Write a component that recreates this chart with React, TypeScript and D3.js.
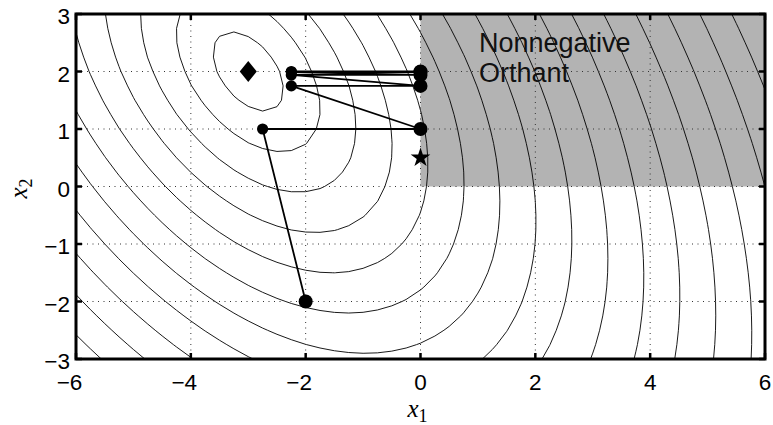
import React from 'react';
import * as d3 from 'd3';

const W = 773;
const H = 425;

// Axis ticks
const xTicks = [-6, -4, -2, 0, 2, 4, 6];
const yTicks = [-3, -2, -1, 0, 1, 2, 3];

// Quadratic objective: unconstrained minimizer and Hessian
const minimizer = [-3, 2];
const hessian = [
  [1.25, 0.52],
  [0.52, 1.0],
];

// Contour levels, expressed as sqrt of the objective value
const contourRadii = [
  0.62, 1.24, 1.86, 2.48, 3.1, 3.72, 4.34, 4.96, 5.58, 6.2, 6.82, 7.44, 8.06,
  8.68, 9.3, 9.92, 10.54, 11.16,
];

// Iterates of the alternating projection path
const iterX = [-2, -2.75, 0, -2.25, 0, -2.25, 0, -2.25, 0, -2.25, 0];
const iterY = [-2, 1, 1, 1.75, 1.75, 1.94, 1.94, 1.99, 1.99, 2.0, 2.0];
const iterBig = [true, false, true, false, true, false, true, false, true, false, true];

// Constrained optimum (star) and nonnegative orthant bounds
const optimum = [0, 0.5];
const orthantX = [0, 6];
const orthantY = [0, 3];

const orthantLabel = ['Nonnegative', 'Orthant'];

const SANS = '"Liberation Sans", Arial, Helvetica, sans-serif';
const SERIF = '"Liberation Serif", "Times New Roman", serif';

function fmt(v: number) {
  return v < 0 ? '\u2212' + Math.abs(v) : String(v);
}

export default function App() {
  const left = 76;
  const right = 765;
  const top = 14;
  const bottom = 359;

  const x = d3.scaleLinear().domain([-6, 6]).range([left, right]);
  const y = d3.scaleLinear().domain([-3, 3]).range([bottom, top]);

  // Sample the objective on a coarse grid extending past the axes
  const step = 0.25;
  const gx0 = -6.5;
  const gy0 = -3.5;
  const nx = 53;
  const ny = 29;
  const vals: number[] = new Array(nx * ny);
  for (let j = 0; j < ny; j++) {
    for (let i = 0; i < nx; i++) {
      const dx = gx0 + i * step - minimizer[0];
      const dy = gy0 + j * step - minimizer[1];
      vals[j * nx + i] =
        hessian[0][0] * dx * dx + 2 * hessian[0][1] * dx * dy + hessian[1][1] * dy * dy;
    }
  }
  const contours = d3
    .contours()
    .size([nx, ny])
    .thresholds(contourRadii.map((r) => r * r))(vals);

  const toPx = (p: number[]) =>
    `${x(gx0 + step * (p[0] - 0.5)).toFixed(2)},${y(gy0 + step * (p[1] - 0.5)).toFixed(2)}`;
  const contourPaths = contours.map((c) =>
    c.coordinates
      .map((poly) => poly.map((ring) => 'M' + ring.map(toPx).join('L') + 'Z').join(''))
      .join('')
  );

  const pathLine = d3
    .line<number>()
    .x((i) => x(iterX[i]))
    .y((i) => y(iterY[i]));
  const idx = iterX.map((_, i) => i);

  const starPath = d3.symbol(d3.symbolStar, 120)()!;

  const dCx = x(minimizer[0]);
  const dCy = y(minimizer[1]);
  const diamond = `M${dCx},${dCy - 10.5}L${dCx + 8.5},${dCy}L${dCx},${dCy + 10.5}L${dCx - 8.5},${dCy}Z`;

  const tickLen = 6;

  return (
    <svg
      width={W}
      height={H}
      style={{ position: 'absolute', left: 0, top: 0, background: '#fff' }}
    >
      <defs>
        <clipPath id="plotArea">
          <rect x={left} y={top} width={right - left} height={bottom - top} />
        </clipPath>
      </defs>
      <rect x={0} y={0} width={W} height={H} fill="#fff" />

      <g clipPath="url(#plotArea)">
        <rect
          x={x(orthantX[0])}
          y={y(orthantY[1])}
          width={x(orthantX[1]) - x(orthantX[0])}
          height={y(orthantY[0]) - y(orthantY[1])}
          fill="#b3b3b3"
        />
        {contourPaths.map((d, i) => (
          <path key={i} d={d} fill="none" stroke="#000" strokeWidth={0.9} />
        ))}
      </g>

      {/* dotted grid */}
      <g stroke="#333" strokeWidth={1} strokeDasharray="1 4.5">
        {xTicks.slice(1, -1).map((t) => (
          <line key={'gx' + t} x1={x(t)} x2={x(t)} y1={top} y2={bottom} />
        ))}
        {yTicks.slice(1, -1).map((t) => (
          <line key={'gy' + t} x1={left} x2={right} y1={y(t)} y2={y(t)} />
        ))}
      </g>

      {/* iterate path */}
      <path d={pathLine(idx)!} fill="none" stroke="#000" strokeWidth={1.8} />
      {idx.map((i) => (
        <circle key={'c' + i} cx={x(iterX[i])} cy={y(iterY[i])} r={iterBig[i] ? 7 : 5.6} fill="#000" />
      ))}
      <path d={diamond} fill="#000" />
      <path d={starPath} transform={`translate(${x(optimum[0])},${y(optimum[1])})`} fill="#000" />

      {/* axes box and ticks */}
      <rect
        x={left}
        y={top}
        width={right - left}
        height={bottom - top}
        fill="none"
        stroke="#000"
        strokeWidth={3}
      />
      <g stroke="#000" strokeWidth={2.5}>
        {xTicks.map((t) => (
          <g key={'tx' + t}>
            <line x1={x(t)} x2={x(t)} y1={bottom} y2={bottom - tickLen} />
            <line x1={x(t)} x2={x(t)} y1={top} y2={top + tickLen} />
          </g>
        ))}
        {yTicks.map((t) => (
          <g key={'ty' + t}>
            <line x1={left} x2={left + tickLen} y1={y(t)} y2={y(t)} />
            <line x1={right} x2={right - tickLen} y1={y(t)} y2={y(t)} />
          </g>
        ))}
      </g>

      {/* tick labels */}
      <g fontFamily={SANS} fontSize={22.5} fill="#000">
        {xTicks.map((t) => (
          <text key={'lx' + t} x={x(t) + 6.3} y={390} textAnchor="end">
            {fmt(t)}
          </text>
        ))}
        {yTicks.map((t) => (
          <text key={'ly' + t} x={left - 6} y={y(t) + 10} textAnchor="end">
            {fmt(t)}
          </text>
        ))}
      </g>

      {/* axis labels */}
      <text x={x(0) - 3} y={417} textAnchor="middle" fontFamily={SERIF} fontSize={25}>
        <tspan fontStyle="italic">x</tspan>
        <tspan fontSize={18} dy={5}>1</tspan>
      </text>
      <text
        transform={`translate(27,${y(0) + 2}) rotate(-90)`}
        textAnchor="middle"
        fontFamily={SERIF}
        fontSize={25}
      >
        <tspan fontStyle="italic">x</tspan>
        <tspan fontSize={18} dy={5}>2</tspan>
      </text>

      {/* region annotation */}
      <g fontFamily={SANS} fontSize={27} fill="#111">
        {orthantLabel.map((s, i) => (
          <text key={s} x={479} y={52 + i * 30}>
            {s}
          </text>
        ))}
      </g>
    </svg>
  );
}
